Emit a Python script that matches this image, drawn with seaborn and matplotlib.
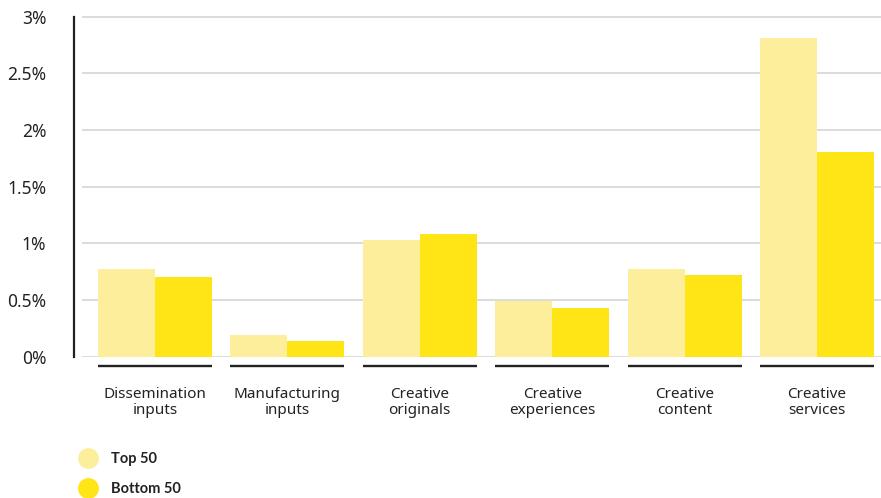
import matplotlib
matplotlib.use("Agg")
import matplotlib.pyplot as plt
import matplotlib.transforms as mtransforms
from matplotlib.lines import Line2D
import seaborn as sns
import pandas as pd

categories = ["Dissemination\ninputs", "Manufacturing\ninputs", "Creative\noriginals",
              "Creative\nexperiences", "Creative\ncontent", "Creative\nservices"]
series_names = ["Top 50", "Bottom 50"]
top50 = [0.77, 0.19, 1.03, 0.49, 0.77, 2.81]
bottom50 = [0.70, 0.14, 1.08, 0.43, 0.72, 1.80]
y_ticks = [0, 0.5, 1, 1.5, 2, 2.5, 3]
y_tick_labels = ["0%", "0.5%", "1%", "1.5%", "2%", "2.5%", "3%"]
colors = ["#FDEE9B", "#FFE516"]

df = pd.DataFrame({
    "category": categories * 2,
    "series": [series_names[0]] * len(categories) + [series_names[1]] * len(categories),
    "value": top50 + bottom50,
})

sns.set_theme(style="white")
plt.rcParams["font.family"] = ["Noto Sans", "DejaVu Sans"]
text_color = "#222222"

fig = plt.figure(figsize=(8.81, 4.98), dpi=100)
W, H = 881, 498
ax = fig.add_axes([82 / W, 1 - 356.5 / H, 1 - 82 / W, (356.5 - 16.5) / H])

sns.barplot(data=df, x="category", y="value", hue="series", palette=colors,
            hue_order=series_names, order=categories, width=0.86, saturation=1,
            ax=ax, legend=False, zorder=3, linewidth=0, edgecolor="none")

ax.set_ylim(0, 3)
ax.set_xlim(-0.551, 5.483)
ax.set_yticks(y_ticks)
ax.set_yticklabels(y_tick_labels)
ax.yaxis.grid(True, color="#d6d6d6", linewidth=1.2, zorder=0)
ax.set_axisbelow(True)
ax.xaxis.grid(False)
ax.set_xlabel("")
ax.set_ylabel("")

for s in ["top", "right", "bottom"]:
    ax.spines[s].set_visible(False)
ax.spines["left"].set_position(("outward", 5.76))
ax.spines["left"].set_color(text_color)
ax.spines["left"].set_linewidth(1.6)
ax.tick_params(axis="y", length=0, pad=20, labelsize=12.5, labelcolor=text_color)
ax.tick_params(axis="x", length=0, pad=22, labelsize=11.0, labelcolor=text_color)
for lbl in ax.get_xticklabels():
    lbl.set_linespacing(1.05)

# underline under each category group
trans = mtransforms.blended_transform_factory(ax.transData, ax.transAxes)
yoff = -9.5 / (356.5 - 16.5)
for i in range(len(categories)):
    ax.add_line(Line2D([i - 0.43, i + 0.43], [yoff, yoff], transform=trans,
                       color=text_color, linewidth=1.7, clip_on=False,
                       solid_capstyle="butt"))

handles = [Line2D([], [], marker="o", linestyle="none", markersize=14,
                  markerfacecolor=c, markeredgecolor=c) for c in colors]
leg = fig.legend(handles, series_names, loc="center left",
                 bbox_to_anchor=(73 / W, 1 - 474 / H), frameon=False,
                 prop={"family": ["Lato", "DejaVu Sans"], "weight": "bold", "size": 10.5},
                 handletextpad=0.6, labelspacing=1.05, borderaxespad=0, borderpad=0)
for t in leg.get_texts():
    t.set_color(text_color)

fig.savefig("out.png", dpi=100)
